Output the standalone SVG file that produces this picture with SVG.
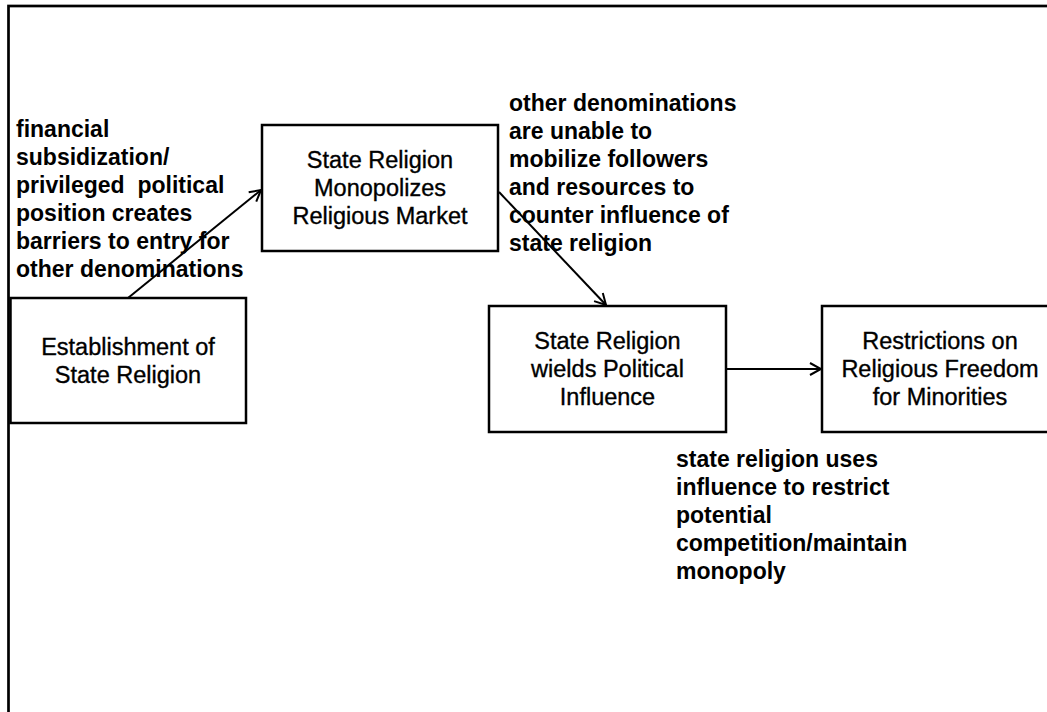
<svg xmlns="http://www.w3.org/2000/svg" width="1047" height="712" viewBox="0 0 1047 712">
<style>
.box{fill:#fff;stroke:#000;stroke-width:2.5}
.bt{font-family:"Liberation Sans",Arial,sans-serif;font-size:23.5px;text-anchor:middle;fill:#000;stroke:#000;stroke-width:0.35}
.lb{font-family:"Liberation Sans",Arial,sans-serif;font-size:23px;font-weight:bold;fill:#000}
.conn{stroke:#000;stroke-width:2;fill:none;marker-end:url(#arr)}
</style>
<defs>
<marker id="arr" markerUnits="userSpaceOnUse" markerWidth="14" markerHeight="14" viewBox="0 0 14 14" refX="12" refY="7" orient="auto">
<path d="M1,1 L12,7 L1,13" fill="none" stroke="#000" stroke-width="2"/>
</marker>
</defs>
<rect width="1047" height="712" fill="#fff"/>
<rect x="8.5" y="6" width="1100" height="800" fill="none" stroke="#000" stroke-width="2.7"/>
<g id="n1">
<rect class="box" x="10.5" y="298" width="235.5" height="125"/>
<text class="bt" x="128" y="355">Establishment of</text>
<text class="bt" x="128" y="383">State Religion</text>
</g>
<g id="n2">
<rect class="box" x="262" y="125" width="236" height="126"/>
<text class="bt" x="380" y="168">State Religion</text>
<text class="bt" x="380" y="196">Monopolizes</text>
<text class="bt" x="380" y="224">Religious Market</text>
</g>
<g id="n3">
<rect class="box" x="489" y="306" width="237" height="126"/>
<text class="bt" x="607.5" y="349">State Religion</text>
<text class="bt" x="607.5" y="377">wields Political</text>
<text class="bt" x="607.5" y="405">Influence</text>
</g>
<g id="n4">
<rect class="box" x="822" y="306" width="236" height="126"/>
<text class="bt" x="940" y="349">Restrictions on</text>
<text class="bt" x="940" y="377">Religious Freedom</text>
<text class="bt" x="940" y="405">for Minorities</text>
</g>
<g id="labels">
<text class="lb" x="16" y="137">financial</text>
<text class="lb" x="16" y="165">subsidization/</text>
<text class="lb" x="16" y="193" xml:space="preserve">privileged  political</text>
<text class="lb" x="16" y="221">position creates</text>
<text class="lb" x="16" y="249">barriers to entry for</text>
<text class="lb" x="16" y="277">other denominations</text>
<text class="lb" x="509" y="111">other denominations</text>
<text class="lb" x="509" y="139">are unable to</text>
<text class="lb" x="509" y="167">mobilize followers</text>
<text class="lb" x="509" y="195">and resources to</text>
<text class="lb" x="509" y="223">counter influence of</text>
<text class="lb" x="509" y="251">state religion</text>
<text class="lb" x="676" y="467">state religion uses</text>
<text class="lb" x="676" y="495">influence to restrict</text>
<text class="lb" x="676" y="523">potential</text>
<text class="lb" x="676" y="551">competition/maintain</text>
<text class="lb" x="676" y="579">monopoly</text>
</g>
<g id="connectors">
<line class="conn" x1="128" y1="298" x2="261" y2="190"/>
<line class="conn" x1="499" y1="192" x2="606" y2="305"/>
<line class="conn" x1="726" y1="369" x2="821" y2="369"/>
</g>
</svg>
